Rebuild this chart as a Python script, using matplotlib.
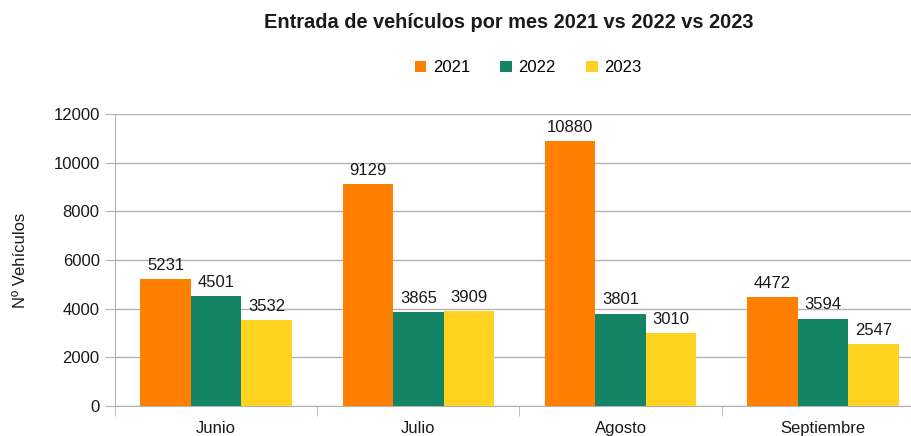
import numpy as np
import matplotlib
matplotlib.use('Agg')
import matplotlib.pyplot as plt

plt.rcParams['font.family'] = ['Liberation Sans', 'DejaVu Sans']

meses = ['Junio', 'Julio', 'Agosto', 'Septiembre']
v2021 = [5231, 9129, 10880, 4472]
v2022 = [4501, 3865, 3801, 3594]
v2023 = [3532, 3909, 3010, 2547]
series = [('2021', v2021, '#ff8000'), ('2022', v2022, '#158466'), ('2023', v2023, '#ffd320')]

fig = plt.figure(figsize=(9.12, 4.36), dpi=100)
ax = fig.add_axes([115/912, 30/436, 809/912, 292/436])

x = np.arange(len(meses))
ancho = 0.25
for i, (nombre, vals, color) in enumerate(series):
    pos = x + (i - 1) * ancho
    barras = ax.bar(pos, vals, ancho, color=color, label=nombre, zorder=3)
    for b, v in zip(barras, vals):
        ax.text(b.get_x() + b.get_width() / 2, v + 250, str(v), ha='center', va='bottom',
                fontsize=12, color='#1a1a1a', zorder=4)

ax.set_xlim(-0.5, 3.5)
ax.set_ylim(0, 12000)
ax.set_yticks(range(0, 12001, 2000))
ax.tick_params(axis='y', labelsize=12, length=7, color='#b3b3b3', pad=4, labelcolor='#1a1a1a')
ax.set_xticks(x)
ax.set_xticklabels(meses, fontsize=12, color='#1a1a1a')
ax.tick_params(axis='x', length=0, pad=11)
# marcas entre categorias
ax.set_xticks(np.arange(-0.5, 4, 1), minor=True)
ax.tick_params(axis='x', which='minor', length=7, color='#b3b3b3')

ax.grid(axis='y', color='#b3b3b3', linewidth=1, zorder=0)
for s in ['top', 'right']:
    ax.spines[s].set_visible(False)
for s in ['left', 'bottom']:
    ax.spines[s].set_color('#b3b3b3')

ax.set_ylabel('Nº Vehículos', fontsize=12, color='#1a1a1a')
ax.yaxis.set_label_coords(-0.107, 0.5)

fig.suptitle('Entrada de vehículos por mes 2021 vs 2022 vs 2023', x=509/912, y=1 - 22/436,
             va='center', fontsize=14.4, fontweight='bold', color='#1a1a1a')
fig.legend(loc='center', bbox_to_anchor=(528/912, 1 - 68/436), ncol=3, frameon=False,
           fontsize=12, handlelength=0.7, handleheight=0.7, handletextpad=0.4, columnspacing=1.8)

fig.savefig('out.png', dpi=100)
